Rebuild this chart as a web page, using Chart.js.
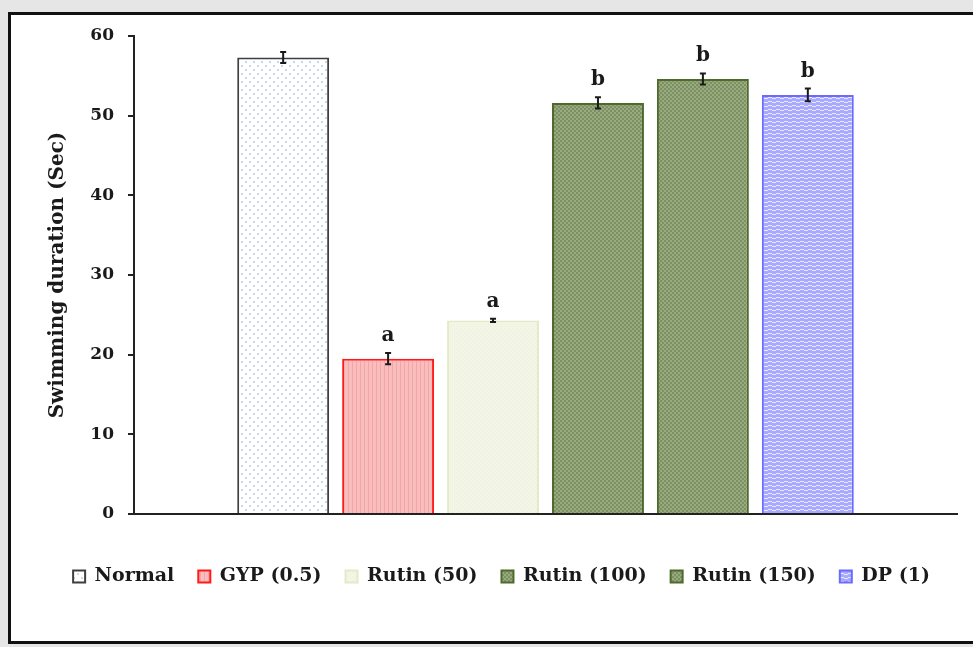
<!DOCTYPE html>
<html>
<head>
<meta charset="utf-8">
<script src="https://cdn.jsdelivr.net/npm/chart.js@4.4.1/dist/chart.umd.min.js"></script>
<style>
  html, body { margin: 0; padding: 0; background: #e6e6e6; overflow: hidden; }
  #moldura { position: absolute; left: 8px; top: 12px; width: 990px; height: 626px; border: 3px solid #111; background: #fff; }
  #caixa { position: absolute; left: 0; top: 0; width: 973px; height: 647px; }
</style>
</head>
<body>
<div id="moldura"></div>
<div id="caixa"><canvas id="grafico1"></canvas></div>
<script>
const grupos = ['Normal', 'GYP (0.5)', 'Rutin (50)', 'Rutin (100)', 'Rutin (150)', 'DP (1)'];
const medias = [57.3, 19.5, 24.3, 51.6, 54.6, 52.6];
const erros = [0.7, 0.7, 0.2, 0.7, 0.7, 0.8];
const letras = ['', 'a', 'a', 'b', 'b', 'b'];
const ticksY = [0, 10, 20, 30, 40, 50, 60];

const fonteSerif = '"DejaVu Serif", "Liberation Serif", serif';

// pequenos padrões de preenchimento, como nas barras do Excel
const padrao = (tam, desenha) => {
  const c = document.createElement('canvas');
  c.width = tam; c.height = tam;
  const g = c.getContext('2d');
  desenha(g, tam);
  return g.createPattern(c, 'repeat');
};

const pontos = padrao(8, (g) => {
  g.fillStyle = '#ffffff'; g.fillRect(0, 0, 8, 8);
  g.fillStyle = '#c5daf2'; g.fillRect(1, 1, 2, 2); g.fillRect(5, 5, 2, 2);
});
const listras = padrao(4, (g) => {
  g.fillStyle = '#f9bdbd'; g.fillRect(0, 0, 4, 4);
  g.fillStyle = '#f4a6a6'; g.fillRect(0, 0, 1, 4);
});
const claro = padrao(4, (g) => {
  g.fillStyle = '#f3f6e6'; g.fillRect(0, 0, 4, 4);
  g.fillStyle = '#e9efd4'; g.fillRect(0, 0, 1, 1); g.fillRect(2, 2, 1, 1);
});
const xadrez = padrao(4, (g) => {
  g.fillStyle = '#98aa80'; g.fillRect(0, 0, 4, 4);
  g.fillStyle = '#7c9062'; g.fillRect(0, 0, 2, 2); g.fillRect(2, 2, 2, 2);
});
const ondas = padrao(8, (g) => {
  g.fillStyle = '#a9a9ff'; g.fillRect(0, 0, 8, 8);
  g.fillStyle = '#e8e8ff'; g.fillRect(0, 1, 4, 1); g.fillRect(4, 2, 4, 1); g.fillRect(0, 5, 4, 1); g.fillRect(4, 6, 4, 1);
});

const fundos = [pontos, listras, claro, xadrez, xadrez, ondas];
const bordas = ['#3f3f3f', '#ff1a1a', '#e2eac8', '#4f6a2c', '#4f6a2c', '#6a6aff'];

// barras de erro e letras de significância
const extras = {
  id: 'extras',
  afterDatasetsDraw(chart) {
    const ctx = chart.ctx;
    const y = chart.scales.y;
    ctx.save();
    medias.forEach((m, i) => {
      const barra = chart.getDatasetMeta(i).data[0];
      const x = barra.x;
      const cima = y.getPixelForValue(m + erros[i]);
      const baixo = y.getPixelForValue(m - erros[i]);
      ctx.strokeStyle = '#1a1a1a';
      ctx.lineWidth = 2;
      ctx.beginPath();
      ctx.moveTo(x, cima); ctx.lineTo(x, baixo);
      ctx.moveTo(x - 3, cima); ctx.lineTo(x + 3, cima);
      ctx.moveTo(x - 3, baixo); ctx.lineTo(x + 3, baixo);
      ctx.stroke();
      if (letras[i]) {
        ctx.fillStyle = '#1a1a1a';
        ctx.font = 'bold 20px ' + fonteSerif;
        ctx.textAlign = 'center';
        ctx.textBaseline = 'alphabetic';
        ctx.fillText(letras[i], x, cima - 12);
      }
    });
    ctx.restore();
  }
};

const ctx = document.getElementById('grafico1');

let grafico1 = new Chart(ctx, {
  type: 'bar',
  data: {
    labels: [''],
    datasets: grupos.map((g, i) => ({
      label: g,
      data: [medias[i]],
      backgroundColor: fundos[i],
      borderColor: bordas[i],
      borderWidth: 2,
      categoryPercentage: 0.765,
      barPercentage: 0.876
    }))
  },
  options: {
    responsive: true,
    maintainAspectRatio: false,
    animation: false,
    layout: { padding: { left: 46, right: 16, top: 36, bottom: 51 } },
    plugins: {
      tooltip: { enabled: false },
      legend: {
        position: 'bottom',
        labels: {
          boxWidth: 12,
          boxHeight: 12,
          padding: 24,
          color: '#1a1a1a',
          font: { family: fonteSerif, weight: 'bold', size: 19 }
        }
      }
    },
    scales: {
      x: {
        grid: { display: false },
        ticks: { display: false },
        border: { color: '#222', width: 2 },
        afterFit: (s) => { s.height = 29; }
      },
      y: {
        min: 0,
        max: 60,
        afterBuildTicks: (s) => { s.ticks = ticksY.map(v => ({ value: v })); },
        afterFit: (s) => { s.width = 88; },
        grid: { drawOnChartArea: false, drawTicks: true, tickLength: 6, color: '#222', lineWidth: 2 },
        border: { color: '#222', width: 2 },
        ticks: { color: '#1a1a1a', padding: 14, font: { family: fonteSerif, weight: 'bold', size: 17 } },
        title: {
          display: true,
          text: 'Swimming duration (Sec)',
          color: '#1a1a1a',
          padding: { top: 0, bottom: 0 },
          font: { family: fonteSerif, weight: 'bold', size: 20 }
        }
      }
    }
  },
  plugins: [extras]
});
</script>
</body>
</html>
